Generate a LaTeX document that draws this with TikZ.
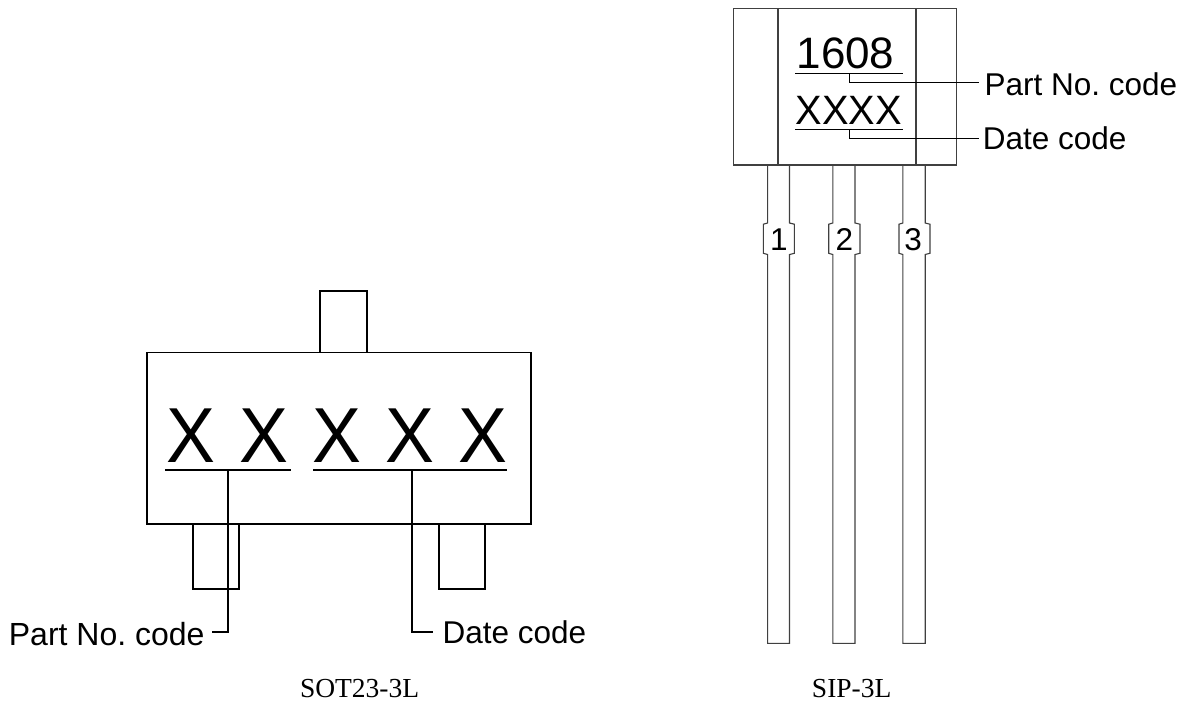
\documentclass[tikz,border=0pt]{standalone}
\usepackage{fontspec}
\setmainfont{Liberation Sans}
\newfontfamily\capfont{Liberation Serif}
\frenchspacing
\tikzset{
 body/.style={draw=black,line width=1.7pt,line join=miter},
 thinpart/.style={draw=black!75,line width=1.1pt,line join=miter},
 leader/.style={draw=black,line width=1.2pt},
 midleader/.style={draw=black,line width=1.7pt},
 boldleader/.style={draw=black,line width=1.8pt},
 lbl/.style={inner sep=0pt,font=\fontsize{31.5}{32}\selectfont,anchor=base west,text=black},
 digit/.style={inner sep=0pt,font=\fontsize{31.5}{32}\selectfont,anchor=base,text=black},
 bigx/.style={inner sep=0pt,font=\fontsize{78}{80}\selectfont,anchor=base,text=black,xscale=0.94},
 captext/.style={inner sep=0pt,font=\capfont\fontsize{27.5}{28}\selectfont,anchor=base,text=black},
}
\begin{document}
\begin{tikzpicture}[x=1pt,y=-1pt]
\useasboundingbox (0,0) rectangle (1188,704);
% SOT23-3L
\draw[body] (147,352.5) rectangle (531,524.3);
\draw[body] (320.3,352.5) -- (320.3,291) -- (366.7,291) -- (366.7,352.5);
\draw[body] (192.7,524.3) -- (192.7,588.7) -- (238.7,588.7) -- (238.7,524.3);
\draw[body] (439.3,524.3) -- (439.3,588.7) -- (485.3,588.7) -- (485.3,524.3);
\foreach \n/\x in {a/190.5,b/263.6,c/336.8,d/409.9,e/482.9}
  \node[bigx] (x\n) at (\x,462.2) {X};
\coordinate (ul1a) at (165,470); \coordinate (ul1b) at (290.7,470);
\coordinate (ul2a) at (313,470); \coordinate (ul2b) at (506.7,470);
\coordinate (t1) at (228,470); \coordinate (t2) at (411.7,470);
\draw[boldleader] (ul1a) -- (ul1b);
\draw[boldleader] (ul2a) -- (ul2b);
\node[lbl,font=\fontsize{32}{32}\selectfont] (pn1) at (8.7,645.6) {Part No. code};
\node[lbl] (dc1) at (442.5,643.5) {Date code};
\coordinate (c1) at (228,632.3); \coordinate (c2) at (411.7,632.3);
\coordinate (e1) at (211.7,632.3); \coordinate (e2) at (432.7,632.3);
\draw[midleader] (t1) -- (c1) -- (e1);
\draw[midleader] (t2) -- (c2) -- (e2);
\node[captext] (capa) at (359.6,697.5) {SOT23-3L};
% SIP-3L
\draw[thinpart] (733.5,8.5) rectangle (956.5,165);
\draw[thinpart] (778,8.5) -- (778,165);
\draw[thinpart] (916,8.5) -- (916,165);
\foreach \a/\b/\la/\lb in {767.6/789.5/763.3/794.3,832.8/855/828.7/860,902.9/925.2/899/930}{
  \draw[thinpart] (\a,165) -- (\a,223) -- (\la,224.2) -- (\la,253.3) -- (\a,254.5) -- (\a,643.3)
     -- (\b,643.3) -- (\b,254.5) -- (\lb,253.3) -- (\lb,224.2) -- (\b,223) -- (\b,165);
}
\node[digit] (d1) at (778.8,250) {1};
\node[digit] (d2) at (844.3,250) {2};
\node[digit] (d3) at (913,250) {3};
\node[inner sep=0pt,font=\fontsize{44}{44}\selectfont,anchor=base] (n1608) at (845.5,68.3) {1608};
\node[inner sep=0pt,font=\fontsize{41}{41}\selectfont,anchor=base,xscale=0.97] (nxxxx) at (848.9,124.3) {XXXX};
\coordinate (u1a) at (795,73.7); \coordinate (u1b) at (902.7,73.7);
\coordinate (u2a) at (795,129.3); \coordinate (u2b) at (902.7,129.3);
\draw[leader] (u1a) -- (u1b);
\draw[leader] (u2a) -- (u2b);
\node[lbl] (pn2) at (984.4,95) {Part No. code};
\node[lbl] (dc2) at (982.6,149) {Date code};
\coordinate (s1) at (849.3,73.7); \coordinate (k1) at (849.3,82.7); \coordinate (f1) at (979,82.7);
\coordinate (s2) at (849.3,129.3); \coordinate (k2) at (849.3,138.3); \coordinate (f2) at (979,138.3);
\draw[leader] (s1) -- (k1) -- (f1);
\draw[leader] (s2) -- (k2) -- (f2);
\node[captext] (capb) at (851.7,697.5) {SIP-3L};
\end{tikzpicture}
\end{document}
